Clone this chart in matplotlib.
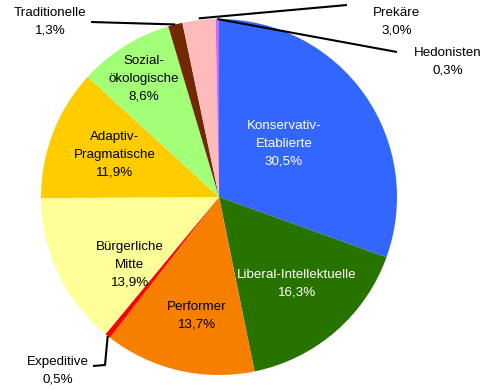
import numpy as np
import matplotlib
matplotlib.use("Agg")
import matplotlib.pyplot as plt

# Milieu shares (percent), clockwise from 12 o'clock
milieus = ["Konservativ-\nEtablierte", "Liberal-Intellektuelle", "Performer",
           "Expeditive", "Bürgerliche\nMitte", "Adaptiv-\nPragmatische",
           "Sozial-\nökologische", "Traditionelle", "Prekäre", "Hedonisten"]
shares = [30.5, 16.3, 13.7, 0.5, 13.9, 11.9, 8.6, 1.3, 3.0, 0.3]
colors = ["#3366FF", "#287300", "#F77F00", "#FF0000", "#FFFF99",
          "#FFCC00", "#A3FF78", "#722800", "#FFBBBB", "#CC66FF"]
text_colors = ["white", "white", "black", "black", "black",
               "black", "black", "black", "black", "black"]

W, H = 497, 390
fig = plt.figure(figsize=(W / 100, H / 100), dpi=100)
ax = fig.add_axes([0, 0, 1, 1])


def px(x, y):
    """Pixel position (origin top-left) to axes data coordinates."""
    return x, H - y


cx, cy = px(219, 197)
R = 178
wedges, _ = ax.pie(shares, colors=colors, startangle=90, counterclock=False,
                   center=(cx, cy), radius=R, frame=True,
                   wedgeprops=dict(linewidth=0))
ax.set_xlim(0, W)
ax.set_ylim(0, H)
ax.set_aspect("auto")
ax.axis("off")

font = dict(family=["Liberation Sans", "DejaVu Sans"], fontsize=9.6,
            ha="center", va="center", linespacing=1.62)


def label(i):
    return f"{milieus[i]}\n{shares[i]:.1f}".replace(".", ",") + "%"


# labels placed inside the larger slices
inside = {0: (284, 144), 1: (297, 284), 2: (197, 316), 4: (130, 265),
          5: (115, 155), 6: (144, 79)}
for i, (x, y) in inside.items():
    ax.text(*px(x, y), label(i), color=text_colors[i], **font)

# small slices: label outside with a leader line from the wedge rim
outside = {7: ((50, 22), [(91, 22)]),
           8: ((397, 22), [(347, 5)]),
           9: ((448, 62), [(397, 52)]),
           3: ((58, 371), [(93, 366), (105, 365)])}
for i, ((x, y), path) in outside.items():
    ax.text(*px(x, y), label(i), color="black", **font)
    w = wedges[i]
    mid = np.deg2rad((w.theta1 + w.theta2) / 2)
    r = R * (1.0 if i != 8 else 1.01)
    sx, sy = cx + r * np.cos(mid), cy + r * np.sin(mid)
    pts = [px(*p) for p in path] + [(sx, sy)]
    xs, ys = zip(*pts)
    ax.plot(xs, ys, color="black", linewidth=1.5, solid_capstyle="butt")

fig.savefig("out.png", dpi=100)
